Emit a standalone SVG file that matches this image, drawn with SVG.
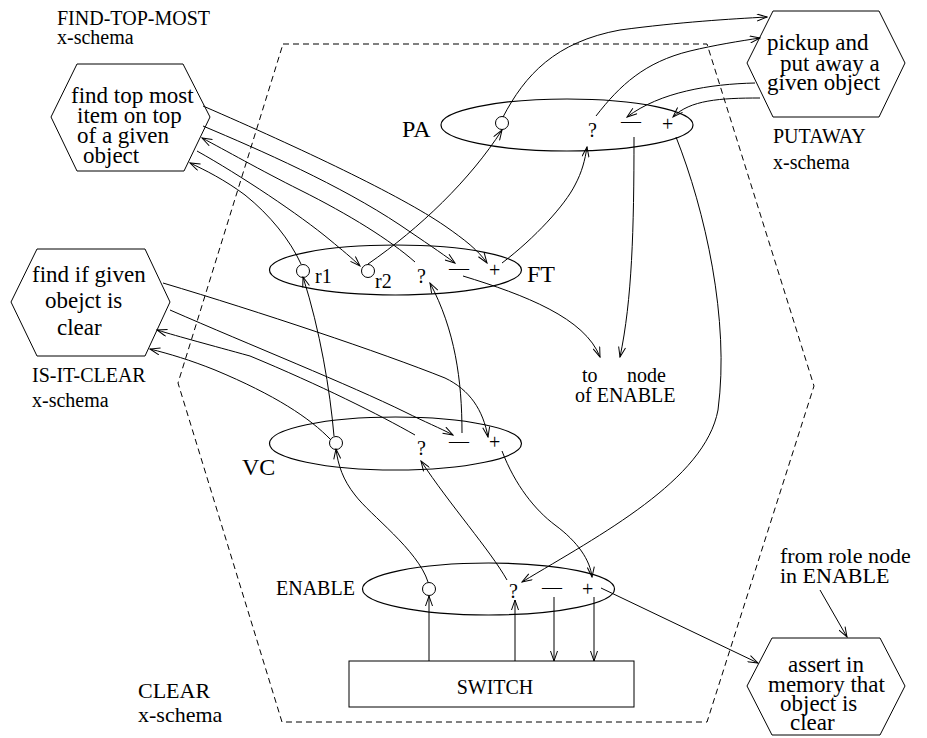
<svg xmlns="http://www.w3.org/2000/svg" width="927" height="738" viewBox="0 0 927 738">
<defs>
<marker id="a" markerWidth="12" markerHeight="8" refX="11" refY="4" orient="auto" markerUnits="userSpaceOnUse"><path d="M1,0.5 L11,4 L1,7.5" fill="none" stroke="#000" stroke-width="1"/></marker>
</defs>
<style>
text{font-family:"Liberation Serif","Times New Roman",serif;fill:#000}
.l{font-size:20px}
.h{font-size:23px}
.n{font-size:24px}
.s{fill:none;stroke:#000;stroke-width:1}
.c path,.c line{fill:none;stroke:#000;stroke-width:1;marker-end:url(#a)}
.e{fill:none;stroke:#000;stroke-width:1.2}
</style>
<rect width="927" height="738" fill="#fff"/>
<g id="clear-schema">
<polygon points="283,44 707,44 814,386 707,722 282,722 178,383" fill="none" stroke="#000" stroke-width="1" stroke-dasharray="6,4"/>
<text x="138" y="698" style="font-size:22px">CLEAR</text>
<text x="138" y="722" style="font-size:22px">x-schema</text>
</g>
<g id="find-top-most">
<polygon class="s" points="51,117 77,64 183,64 210,117 184,171 77,171"/>
<text class="h" x="71" y="103">find top most</text>
<text class="h" x="77" y="123">item on top</text>
<text class="h" x="77" y="143">of a given</text>
<text class="h" x="83" y="163">object</text>
<text class="l" x="57" y="25">FIND-TOP-MOST</text>
<text class="l" x="57" y="44">x-schema</text>
</g>
<g id="putaway">
<polygon class="s" points="747,63 773,11 879,11 905,63 879,117 773,117"/>
<text class="h" x="767" y="50">pickup and</text>
<text class="h" x="780" y="71">put away a</text>
<text class="h" x="767" y="90">given object</text>
<text class="l" x="773" y="143">PUTAWAY</text>
<text class="l" x="773" y="169">x-schema</text>
</g>
<g id="is-it-clear">
<polygon class="s" points="11,302 37,249 145,249 170,302 145,356 37,356"/>
<text class="h" x="32" y="282">find if given</text>
<text class="h" x="45" y="308">obejct is</text>
<text class="h" x="57" y="335">clear</text>
<text class="l" x="32" y="382">IS-IT-CLEAR</text>
<text class="l" x="32" y="407">x-schema</text>
</g>
<g id="assert">
<polygon class="s" points="747,686 772,638 880,638 905,686 880,735 772,735"/>
<text class="h" x="788" y="672">assert in</text>
<text class="h" x="768" y="692">memory that</text>
<text class="h" x="780" y="711">object is</text>
<text class="h" x="790" y="730">clear</text>
<text x="780" y="563" style="font-size:22px">from role node</text>
<text x="780" y="583" style="font-size:22px">in ENABLE</text>
</g>
<g id="pa">
<ellipse class="e" cx="567" cy="125" rx="126" ry="26"/>
<text class="n" x="402" y="137">PA</text>
<circle class="s" cx="502" cy="123" r="6.5"/>
<text class="l" x="588" y="137">?</text>
<text class="l" x="621" y="128">—</text>
<text class="l" x="662" y="131">+</text>
</g>
<g id="ft">
<ellipse class="e" cx="395.5" cy="270" rx="126" ry="25"/>
<text class="n" x="527" y="282">FT</text>
<circle class="s" cx="303" cy="271" r="6.5"/>
<text class="l" x="315" y="283">r1</text>
<circle class="s" cx="368" cy="271" r="6.5"/>
<text class="l" x="375" y="288">r2</text>
<text class="l" x="417" y="283">?</text>
<text class="l" x="449" y="275">—</text>
<text class="l" x="489" y="277">+</text>
</g>
<g id="to-node">
<text class="l" x="582" y="382">to</text>
<text class="l" x="627" y="382">node</text>
<text class="l" x="575" y="402">of ENABLE</text>
</g>
<g id="vc">
<ellipse class="e" cx="395.5" cy="443.5" rx="126" ry="26.5"/>
<text class="n" x="242" y="475">VC</text>
<circle class="s" cx="336" cy="443" r="6.5"/>
<text class="l" x="417" y="455">?</text>
<text class="l" x="449" y="448">—</text>
<text class="l" x="489" y="449">+</text>
</g>
<g id="enable">
<ellipse class="e" cx="488.5" cy="589" rx="126" ry="26"/>
<text class="l" x="276" y="595">ENABLE</text>
<circle class="s" cx="429" cy="589" r="6.5"/>
<text class="l" x="509" y="598">?</text>
<text class="l" x="542" y="594">—</text>
<text class="l" x="582" y="596">+</text>
</g>
<g id="switch">
<rect class="s" x="349" y="661" width="285" height="46"/>
<text class="l" x="495" y="694" text-anchor="middle">SWITCH</text>
</g>
<g id="connectors" class="c">
<path d="M203,106 C300,148 400,195 445,226 C465,240 478,250 487,263"/>
<path d="M203,126 C260,150 340,185 400,225 C425,242 440,252 455,263"/>
<path d="M415,262 C390,240 350,215 300,190 C260,170 225,150 202,138"/>
<path d="M197,151 C240,175 300,215 330,240 C342,250 352,258 360,266"/>
<path d="M301,264 C290,240 270,215 245,195 C225,180 205,170 190,163"/>
<path d="M368,264 C420,228 470,180 502,130"/>
<path d="M503,117 C525,75 555,42 620,30 C680,22 730,19 767,17"/>
<path d="M596,116 C620,85 645,62 690,51 C715,45 740,41 760,38"/>
<path d="M755,83 C710,84 660,92 627,117"/>
<path d="M760,98 C720,98 690,100 673,117"/>
<path d="M502,263 C535,238 565,205 575,185 C582,172 585,160 587,147"/>
<path d="M634,137 C634,230 632,300 620,357"/>
<path d="M463,276 C525,295 585,318 600,357"/>
<path d="M676,137 C705,210 730,320 718,410 C705,480 600,535 522,582"/>
<path d="M163,283 C260,312 380,352 445,378 C470,390 483,410 488,437"/>
<path d="M170,310 C250,345 350,385 405,412 C425,422 440,428 453,435"/>
<path d="M415,435 C380,415 320,385 250,356 C210,345 180,337 157,330"/>
<path d="M331,440 C310,418 275,395 215,370 C190,360 170,354 150,349"/>
<path d="M334,436 C330,390 320,330 303,277"/>
<path d="M462,433 C462,380 455,330 430,283"/>
<path d="M428,582 C418,550 370,515 355,495 C343,480 338,465 336,449"/>
<path d="M507,580 C490,550 450,505 421,461"/>
<path d="M502,451 C515,485 535,510 555,525 C578,542 590,560 592,577"/>
<line x1="429" y1="661" x2="429" y2="596"/>
<line x1="515" y1="661" x2="515" y2="600"/>
<line x1="554" y1="597" x2="554" y2="661"/>
<line x1="594" y1="597" x2="594" y2="661"/>
<line x1="601" y1="588" x2="758" y2="663"/>
<line x1="820" y1="590" x2="847" y2="637"/>
</g>
</svg>
